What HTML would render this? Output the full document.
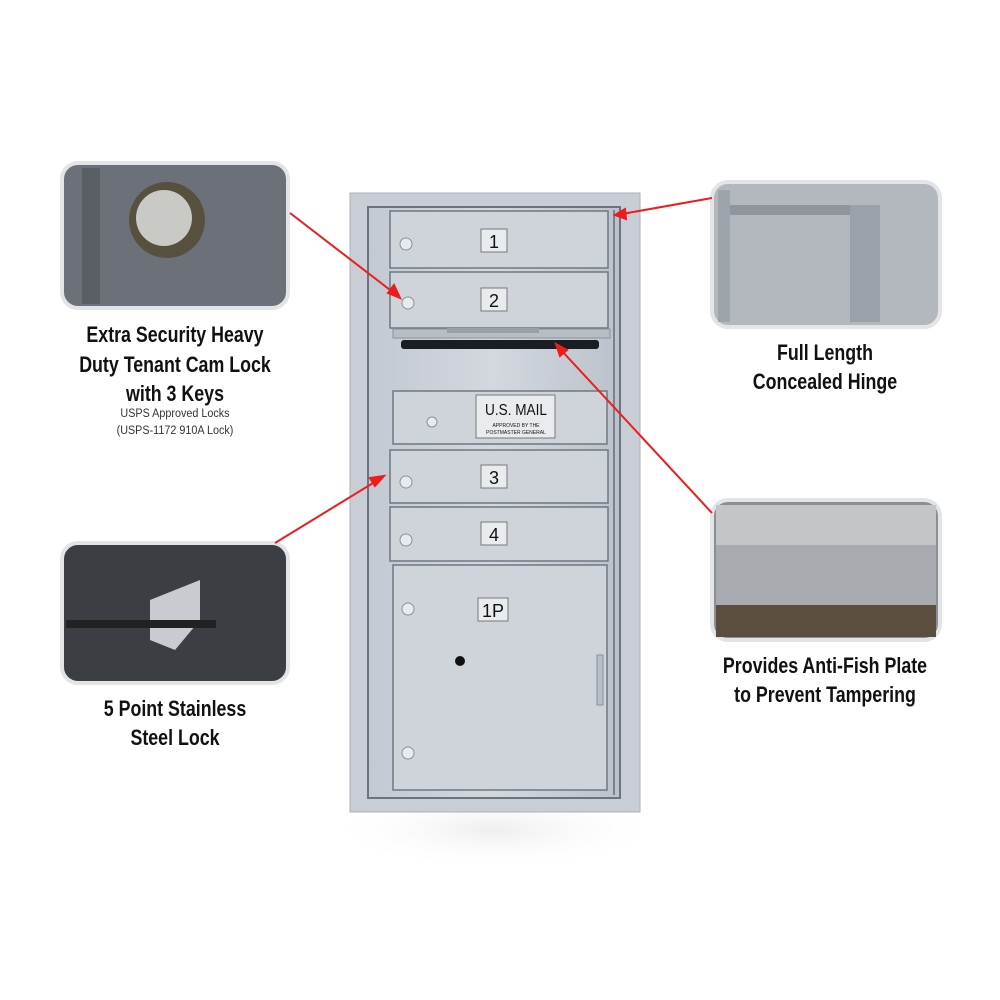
<!DOCTYPE html>
<html><head><style>
body{margin:0;background:#fff;}
svg{display:block}
.t{font-family:"Liberation Sans",sans-serif;font-weight:bold;fill:#111;}
</style></head><body>
<svg width="1000" height="1000" viewBox="0 0 1000 1000" xmlns="http://www.w3.org/2000/svg">
<defs>
<linearGradient id="m" x1="0" x2="1"><stop offset="0" stop-color="#c3c9d2"/><stop offset="0.5" stop-color="#d3d8df"/><stop offset="1" stop-color="#bcc2cb"/></linearGradient>
<radialGradient id="sh" cx="0.5" cy="0.5" r="0.5"><stop offset="0" stop-color="#eee"/><stop offset="1" stop-color="#fff" stop-opacity="0"/></radialGradient>
</defs>
<ellipse cx="495" cy="830" rx="170" ry="40" fill="url(#sh)"/>
<rect x="350" y="193" width="290" height="619" fill="#c9ced6" stroke="#aab0b9"/>
<rect x="368" y="207" width="252" height="591" fill="url(#m)" stroke="#6b737d" stroke-width="2"/>
<line x1="614" y1="210" x2="614" y2="795" stroke="#7a828c" stroke-width="2"/>
<g stroke="#6e7680" stroke-width="1.5" fill="#cfd4db">
<rect x="390" y="211" width="218" height="57"/>
<rect x="390" y="272" width="218" height="56"/>
<rect x="393" y="391" width="214" height="53"/>
<rect x="390" y="450" width="218" height="53"/>
<rect x="390" y="507" width="218" height="54"/>
<rect x="393" y="565" width="214" height="225"/>
</g>
<rect x="393" y="329" width="217" height="9" fill="#b8bec6" stroke="#8a9199"/>
<rect x="447" y="328" width="92" height="5" fill="#9aa0a8"/>
<rect x="401" y="340" width="198" height="9" rx="3" fill="#1a1d22"/>
<rect x="597" y="655" width="6" height="50" fill="#b8bec6" stroke="#8a9199"/>
<g fill="#e8ebee" stroke="#8a9199">
<circle cx="406" cy="244" r="6"/><circle cx="408" cy="303" r="6"/><circle cx="432" cy="422" r="5"/>
<circle cx="406" cy="482" r="6"/><circle cx="406" cy="540" r="6"/><circle cx="408" cy="609" r="6"/><circle cx="408" cy="753" r="6"/>
</g>
<circle cx="460" cy="661" r="5" fill="#111"/>
<g fill="#e9ecef" stroke="#777">
<rect x="481" y="229" width="26" height="23"/><rect x="481" y="288" width="26" height="23"/>
<rect x="481" y="465" width="26" height="23"/><rect x="481" y="522" width="26" height="23"/><rect x="478" y="598" width="30" height="23"/>
<rect x="476" y="395" width="79" height="43"/>
</g>
<g class="t" font-size="18" text-anchor="middle" style="font-weight:normal">
<text x="494" y="248">1</text><text x="494" y="307">2</text><text x="494" y="484">3</text><text x="494" y="541">4</text><text x="493" y="617">1P</text>
<text x="516" y="415" font-size="16" transform="translate(516,0) scale(0.85,1) translate(-516,0)">U.S. MAIL</text>
<text x="516" y="427" font-size="5">APPROVED BY THE</text><text x="516" y="434" font-size="5">POSTMASTER GENERAL</text>
</g>
<g stroke="#e2e4e6" stroke-width="4">
<rect x="62" y="163" width="226" height="145" rx="16" fill="#6b7079"/>
<rect x="62" y="543" width="226" height="140" rx="16" fill="#3b3e43"/>
<rect x="712" y="182" width="228" height="145" rx="16" fill="#b3b8bf"/>
<rect x="712" y="500" width="228" height="140" rx="16" fill="#8b8f94"/>
</g>
<circle cx="167" cy="220" r="38" fill="#57503f"/><circle cx="164" cy="218" r="28" fill="#c9c9c5"/>
<rect x="82" y="168" width="18" height="136" fill="#5a5f66"/>
<path d="M150 600 L200 580 L200 620 L175 650 L150 640Z" fill="#c8ccd0"/>
<rect x="66" y="620" width="150" height="8" fill="#222"/>
<rect x="718" y="190" width="12" height="132" fill="#9ea4ab"/><rect x="730" y="205" width="120" height="10" fill="#8f959c"/>
<rect x="850" y="205" width="30" height="117" fill="#9ba1a8"/>
<rect x="716" y="505" width="220" height="40" fill="#c3c6c9"/>
<rect x="716" y="545" width="220" height="60" fill="#a7abaf"/>
<rect x="716" y="605" width="220" height="32" fill="#5b4e3e"/>
<g stroke="#ee1c1c" stroke-width="2" fill="#ee1c1c">
<line x1="290" y1="213" x2="394" y2="293"/><polygon points="400,298 388,293 394,285"/>
<line x1="275" y1="543" x2="378" y2="480"/><polygon points="384,476 375,486 370,478"/>
<line x1="712" y1="198" x2="622" y2="214"/><polygon points="615,215 625,209 626,219"/>
<line x1="712" y1="513" x2="561" y2="350"/><polygon points="556,344 567,350 560,356"/>
</g>
<g class="t" font-size="22" text-anchor="middle" transform="translate(175,0) scale(0.81,1) translate(-175,0)">
<text x="175" y="342">Extra Security Heavy</text>
<text x="175" y="372">Duty Tenant Cam Lock</text>
<text x="175" y="401">with 3 Keys</text>
<text x="175" y="716">5 Point Stainless</text>
<text x="175" y="745">Steel Lock</text>
</g>
<g class="t" font-size="22" text-anchor="middle" transform="translate(825,0) scale(0.81,1) translate(-825,0)">
<text x="825" y="360">Full Length</text>
<text x="825" y="389">Concealed Hinge</text>
<text x="825" y="673">Provides Anti-Fish Plate</text>
<text x="825" y="702">to Prevent Tampering</text>
</g>
<g font-family="Liberation Sans,sans-serif" font-size="12" fill="#333" text-anchor="middle" transform="translate(175,0) scale(0.9,1) translate(-175,0)">
<text x="175" y="417">USPS Approved Locks</text>
<text x="175" y="434">(USPS-1172 910A Lock)</text>
</g>
</svg>
</body></html>
